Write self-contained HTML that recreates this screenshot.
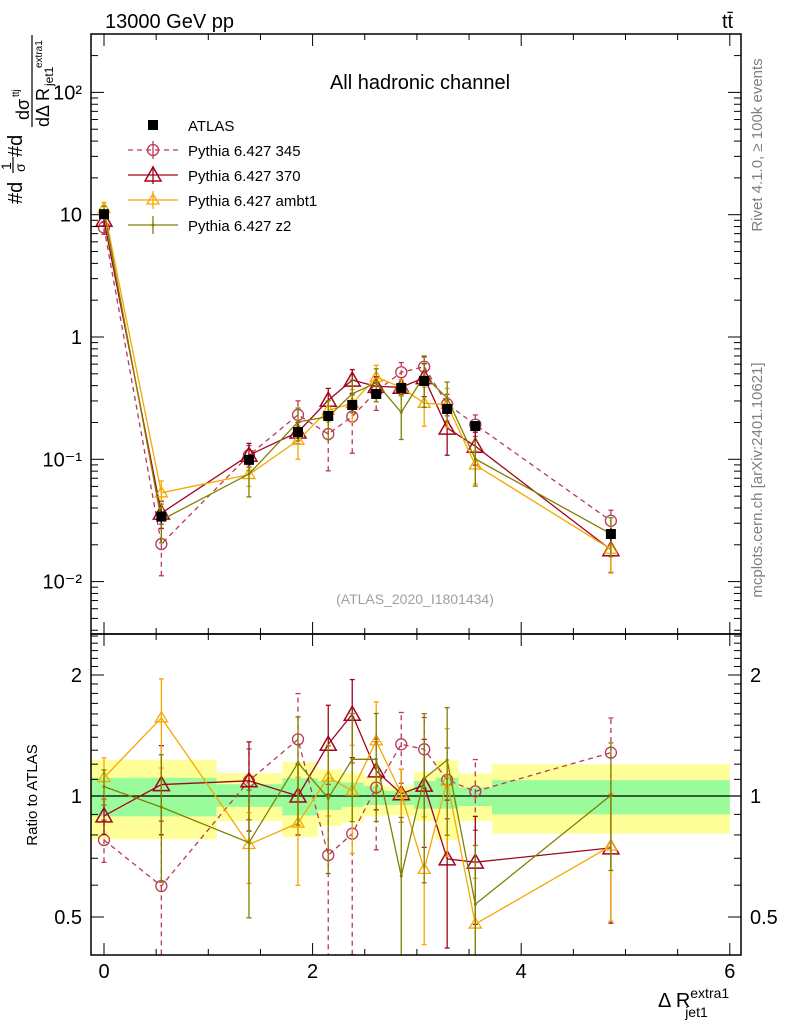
<!DOCTYPE html>
<html><head><meta charset="utf-8"><style>
body{margin:0;background:#fff;font-family:"Liberation Sans",sans-serif;}
svg text{font-family:"Liberation Sans","DejaVu Sans",sans-serif;}
</style></head><body>
<svg id="c" width="786" height="1024" viewBox="0 0 786 1024" xmlns="http://www.w3.org/2000/svg">
<text x="105" y="28" font-size="20">13000 GeV pp</text>
<text x="722" y="28" font-size="20">tt̄</text>
<text x="420" y="89" font-size="20" text-anchor="middle">All hadronic channel</text>
<text x="415" y="604" font-size="14" fill="#a0a0a0" text-anchor="middle">(ATLAS_2020_I1801434)</text>
<text transform="translate(762,145) rotate(-90)" font-size="15" fill="#808080" text-anchor="middle">Rivet 4.1.0, ≥ 100k events</text>
<text transform="translate(762,480) rotate(-90)" font-size="15" fill="#808080" text-anchor="middle">mcplots.cern.ch [arXiv:2401.10621]</text>
<g>
<text transform="translate(22,204) rotate(-90)" font-size="20">#d</text>
<text transform="translate(11,170) rotate(-90)" font-size="14">1</text>
<line x1="13" x2="13" y1="157" y2="173" stroke="#000" stroke-width="1.2"/>
<text transform="translate(25,172) rotate(-90)" font-size="14">σ</text>
<text transform="translate(22,157) rotate(-90)" font-size="20">#d</text>
<line x1="32" x2="32" y1="35" y2="127" stroke="#000" stroke-width="1.2"/>
<text transform="translate(29,120) rotate(-90)" font-size="18">dσ</text>
<text transform="translate(19,97) rotate(-90)" font-size="10">ttj</text>
<text transform="translate(49,127) rotate(-90)" font-size="18">dΔ R</text>
<text transform="translate(53,86) rotate(-90)" font-size="12">jet1</text>
<text transform="translate(42,68) rotate(-90)" font-size="10">extra1</text>
</g>
<text transform="translate(37,795) rotate(-90)" font-size="15" text-anchor="middle">Ratio to ATLAS</text>
<text x="658" y="1007" font-size="20">Δ R<tspan font-size="14" dy="-9">extra1</tspan><tspan font-size="14" dy="19" dx="-44">jet1</tspan></text>
<g id="g"></g>
</svg>
<script>
const xs=[0,0.55,1.39,1.86,2.15,2.38,2.61,2.85,3.07,3.29,3.56,4.86];
const atlas=[10.1,0.034,0.099,0.167,0.226,0.278,0.342,0.383,0.437,0.258,0.187,0.0245];
const atlasErr=[0.08,0.12,0.1,0.12,0.1,0.1,0.08,0.08,0.08,0.1,0.1,0.12];
const p345=[7.85,0.0203,0.108,0.231,0.161,0.224,0.359,0.515,0.571,0.283,0.192,0.0314];
const p370=[9.01,0.0363,0.108,0.167,0.304,0.444,0.395,0.388,0.465,0.180,0.128,0.0182];
const pambt1=[11.22,0.0532,0.075,0.143,0.252,0.286,0.469,0.388,0.287,0.281,0.0898,0.0184];
const pz2=[10.66,0.0319,0.0758,0.202,0.223,0.343,0.422,0.242,0.483,0.317,0.1006,0.0246];
const e345=[0.12,0.45,0.2,0.3,0.5,0.5,0.3,0.2,0.2,0.2,0.2,0.22];
const e370=[0.1,0.25,0.25,0.2,0.25,0.22,0.2,0.15,0.3,0.4,0.3,0.35];
const eambt1=[0.12,0.25,0.2,0.3,0.2,0.3,0.25,0.15,0.35,0.35,0.3,0.35];
const ez2=[0.1,0.35,0.35,0.3,0.35,0.3,0.3,0.4,0.45,0.35,0.4,0.35];
const bandEdges=[-0.125,1.08,1.71,2.05,2.28,2.49,2.65,2.97,3.18,3.40,3.72,6.0];
const yelHi=[1.23,1.14,1.215,1.165,1.14,1.12,1.06,1.147,1.227,1.137,1.20];
const yelLo=[0.78,0.866,0.79,0.842,0.859,0.89,0.895,0.867,0.777,0.867,0.806];
const grnHi=[1.11,1.07,1.107,1.09,1.08,1.06,1.03,1.09,1.11,1.05,1.095];
const grnLo=[0.89,0.94,0.895,0.923,0.94,0.95,0.95,0.93,0.93,0.944,0.90];
const xTicks=[0,2,4,6];
const mainTicks=[0.01,0.1,1,10,100];
const mainTickLabels=["10⁻²","10⁻¹","1","10","10²"];
const ratioTicks=[0.5,1,2];
const ratioTickLabels=["0.5","1","2"];

const NS="http://www.w3.org/2000/svg";
const g=document.getElementById('g');
const L=91,R=741,T=34,MB=634,RB=955;
const X=v=>104+v*104.3;
const Ym=v=>337-Math.log10(v)*122.3;
const Yr=v=>796-Math.log2(v)*121;
function mk(tag,at,parent){const e=document.createElementNS(NS,tag);for(const k in at)e.setAttribute(k,at[k]);(parent||g).appendChild(e);return e;}
function clip(id,y0,y1){const cp=mk('clipPath',{id:id});mk('rect',{x:L,y:y0,width:R-L,height:y1-y0},cp);}
clip('cm',T,MB);clip('cr',MB,RB);
const gm=mk('g',{'clip-path':'url(#cm)'});


const gr=mk('g',{'clip-path':'url(#cr)'});


for(let i=0;i<yelHi.length;i++){
 const x0=X(bandEdges[i]),x1=X(bandEdges[i+1]);
 const y=mk('rect',{x:x0,y:Yr(yelHi[i]),width:x1-x0,height:Yr(yelLo[i])-Yr(yelHi[i]),fill:'#ffff99'},gr);
 
 
 const gg=mk('rect',{x:x0,y:Yr(grnHi[i]),width:x1-x0,height:Yr(grnLo[i])-Yr(grnHi[i]),fill:'#99fb99'},gr);
 
 
}
const one=mk('line',{x1:L,x2:R,y1:Yr(1),y2:Yr(1),stroke:'#000','stroke-width':1.2},gr);


const series=[
 {name:'pythia-345',v:p345,e:e345,c:'#b83a55',dash:'5,4',m:'circle'},
 {name:'pythia-370',v:p370,e:e370,c:'#a0061e',dash:'',m:'tri'},
 {name:'pythia-ambt1',v:pambt1,e:eambt1,c:'#f5a800',dash:'',m:'trismall'},
 {name:'pythia-z2',v:pz2,e:ez2,c:'#808000',dash:'',m:'dot'}];
function marker(par,m,x,y,c){
 if(m==='circle')return mk('circle',{cx:x,cy:y,r:5.5,fill:'none',stroke:c,'stroke-width':1.3},par);
 if(m==='tri')return mk('path',{d:`M${x},${y-8}L${x+8},${y+6}L${x-8},${y+6}Z`,fill:'none',stroke:c,'stroke-width':1.5},par);
 if(m==='trismall')return mk('path',{d:`M${x},${y-6}L${x+6},${y+4}L${x-6},${y+4}Z`,fill:'none',stroke:c,'stroke-width':1.3},par);
 return mk('circle',{cx:x,cy:y,r:1.5,fill:c},par);
}
function drawSeries(par,s,Yf,vals,errs,tag){
 const sg=mk('g',{},par);
 
 
 let d='';
 vals.forEach((v,i)=>{d+=(i?'L':'M')+X(xs[i])+','+Yf(v);});
 mk('path',{d:d,fill:'none',stroke:s.c,'stroke-width':1.3,'stroke-dasharray':s.dash},sg);
 vals.forEach((v,i)=>{
  const x=X(xs[i]);const lo=Math.max(v*(1-errs[i]),1e-4),hi=v*(1+errs[i]);
  mk('line',{x1:x,x2:x,y1:Yf(lo),y2:Yf(hi),stroke:s.c,'stroke-width':1.3,'stroke-dasharray':s.dash},sg);
  mk('line',{x1:x-2.5,x2:x+2.5,y1:Yf(lo),y2:Yf(lo),stroke:s.c,'stroke-width':1.3},sg);
  mk('line',{x1:x-2.5,x2:x+2.5,y1:Yf(hi),y2:Yf(hi),stroke:s.c,'stroke-width':1.3},sg);
  const mm=marker(sg,s.m,x,Yf(v),s.c);
  
  
 });
}
series.forEach(s=>{
 drawSeries(gm,s,Ym,s.v,s.e,'main');
 const r=s.v.map((v,i)=>v/atlas[i]);
 drawSeries(gr,s,Yr,r,s.e,'ratio');
});
const ag=mk('g',{},gm);


atlas.forEach((v,i)=>{
 const x=X(xs[i]);
 mk('line',{x1:x,x2:x,y1:Ym(v*(1-atlasErr[i])),y2:Ym(v*(1+atlasErr[i])),stroke:'#000','stroke-width':1.3},ag);
 const r=mk('rect',{x:x-5,y:Ym(v)-5,width:10,height:10,fill:'#000'},ag);
 
 
});
[[T,MB],[MB,RB]].forEach(([a,b])=>mk('rect',{x:L,y:a,width:R-L,height:b-a,fill:'none',stroke:'#000','stroke-width':1.5}));
for(let v=0;v<=6.01;v+=0.5){
 const x=X(v),maj=Math.abs(v-Math.round(v/2)*2)<1e-6;const len=maj?12:6;
 [T,MB,RB].forEach((y,k)=>{
  if(k!==0)mk('line',{x1:x,x2:x,y1:y,y2:y-len,stroke:'#000'});
  if(k!==2)mk('line',{x1:x,x2:x,y1:y,y2:y+len,stroke:'#000'});
 });
}
xTicks.forEach(v=>{const t=mk('text',{x:X(v),y:978,'font-size':20,'text-anchor':'middle'});t.textContent=v;
 });
for(let d=-3;d<=2;d++)for(let k=1;k<=9;k++){
 const v=k*Math.pow(10,d),y=Ym(v);if(y<T||y>MB)continue;const len=k===1?13:7;
 mk('line',{x1:L,x2:L+len,y1:y,y2:y,stroke:'#000'});mk('line',{x1:R,x2:R-len,y1:y,y2:y,stroke:'#000'});
}
mainTicks.forEach((v,i)=>{const t=mk('text',{x:82,y:Ym(v)+7,'font-size':20,'text-anchor':'end'});t.textContent=mainTickLabels[i];
 });
for(let v=0.4;v<=2.55;v+=0.1){
 const y=Yr(v);if(y<MB||y>RB)continue;const maj=[0.5,1,2].some(m=>Math.abs(m-v)<1e-6);const len=maj?13:7;
 mk('line',{x1:L,x2:L+len,y1:y,y2:y,stroke:'#000'});mk('line',{x1:R,x2:R-len,y1:y,y2:y,stroke:'#000'});
}
ratioTicks.forEach((v,i)=>{
 const t=mk('text',{x:82,y:Yr(v)+7,'font-size':20,'text-anchor':'end'});t.textContent=ratioTickLabels[i];
 
 const t2=mk('text',{x:750,y:Yr(v)+7,'font-size':20});t2.textContent=ratioTickLabels[i];
 
});
const lg=mk('g',{});


const labels=['ATLAS','Pythia 6.427 345','Pythia 6.427 370','Pythia 6.427 ambt1','Pythia 6.427 z2'];
labels.forEach((lab,i)=>{
 const y=125+i*25;
 const e=mk('g',{},lg);
 
 
 if(i===0)mk('rect',{x:148,y:y-5,width:10,height:10,fill:'#000'},e);
 else{const s=series[i-1];mk('line',{x1:128,x2:178,y1:y,y2:y,stroke:s.c,'stroke-width':1.3,'stroke-dasharray':s.dash},e);
  mk('line',{x1:153,x2:153,y1:y-9,y2:y+9,stroke:s.c,'stroke-width':1.3},e);marker(e,s.m,153,y,s.c);}
 const t=mk('text',{x:188,y:y+6,'font-size':15},e);t.textContent=lab;
});
</script>
</body></html>
